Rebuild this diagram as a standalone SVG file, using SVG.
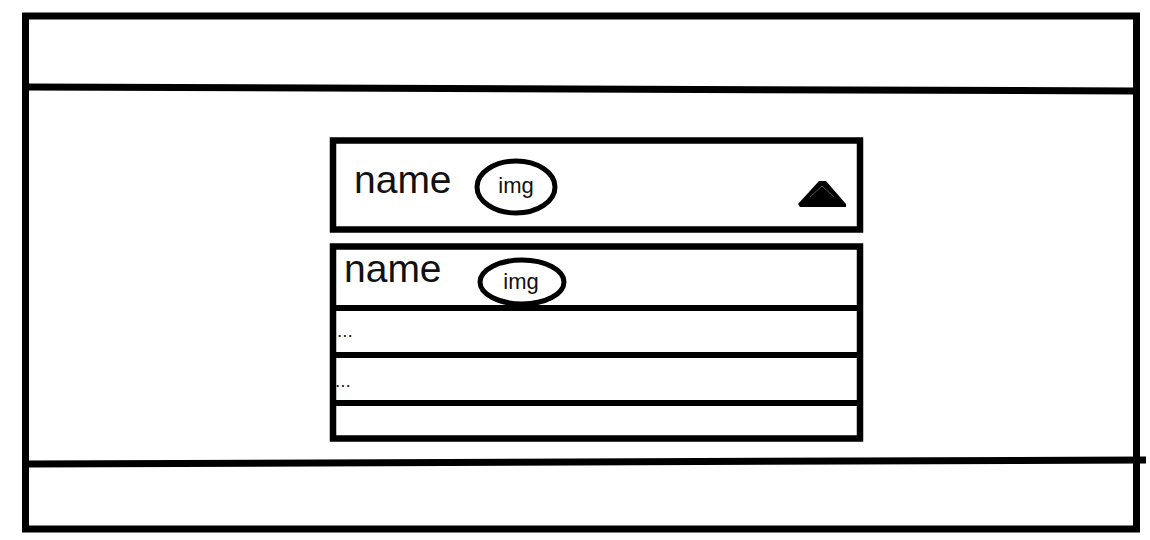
<svg xmlns="http://www.w3.org/2000/svg" width="1150" height="540" viewBox="0 0 1150 540">
<style>
.frame{fill:none;stroke:#000;stroke-width:7}
.box{fill:#fff;stroke:#000;stroke-width:6.5}
.ln{stroke:#000;stroke-width:6;fill:none}
.ell{fill:#fff;stroke:#000;stroke-width:5}
.name{font-family:"Liberation Sans",Arial,sans-serif;font-size:39px;fill:#111}
.img{font-family:"Liberation Sans",Arial,sans-serif;font-size:22px;fill:#111;text-anchor:middle}
.dots{font-family:"Liberation Sans",Arial,sans-serif;font-size:19px;fill:#222}
</style>
<rect width="1150" height="540" fill="#fff"/>
<g id="page">
<rect class="frame" x="25.5" y="16" width="1111" height="513"/>
</g>
<g id="connectors">
<line class="ln" x1="25" y1="87" x2="1137" y2="91" style="stroke-width:7"/>
<line class="ln" x1="25" y1="464" x2="1146" y2="460" style="stroke-width:7"/>
</g>
<g id="dropdown">
<rect class="box" x="333" y="140.5" width="527" height="89"/>
<text class="name" x="354" y="193">name</text>
<ellipse class="ell" cx="516" cy="187" rx="39" ry="26"/>
<text class="img" x="516" y="193">img</text>
<polygon points="798,204 819,181 826,181 846,204 846,207 800,207" fill="#000"/>
<polyline points="810,197 822,186 834,197" fill="none" stroke="#555" stroke-width="1"/>
</g>
<g id="list">
<rect class="box" x="333" y="246.5" width="527" height="192"/>
<line class="ln" x1="333" y1="308" x2="860" y2="308"/>
<line class="ln" x1="333" y1="355" x2="860" y2="355"/>
<line class="ln" x1="333" y1="403" x2="860" y2="403"/>
<text class="name" x="344" y="282">name</text>
<ellipse class="ell" cx="522" cy="282" rx="42" ry="22"/>
<text class="img" x="521" y="289">img</text>
<text class="dots" x="337" y="337">...</text>
<text class="dots" x="335" y="387">...</text>
</g>
</svg>
